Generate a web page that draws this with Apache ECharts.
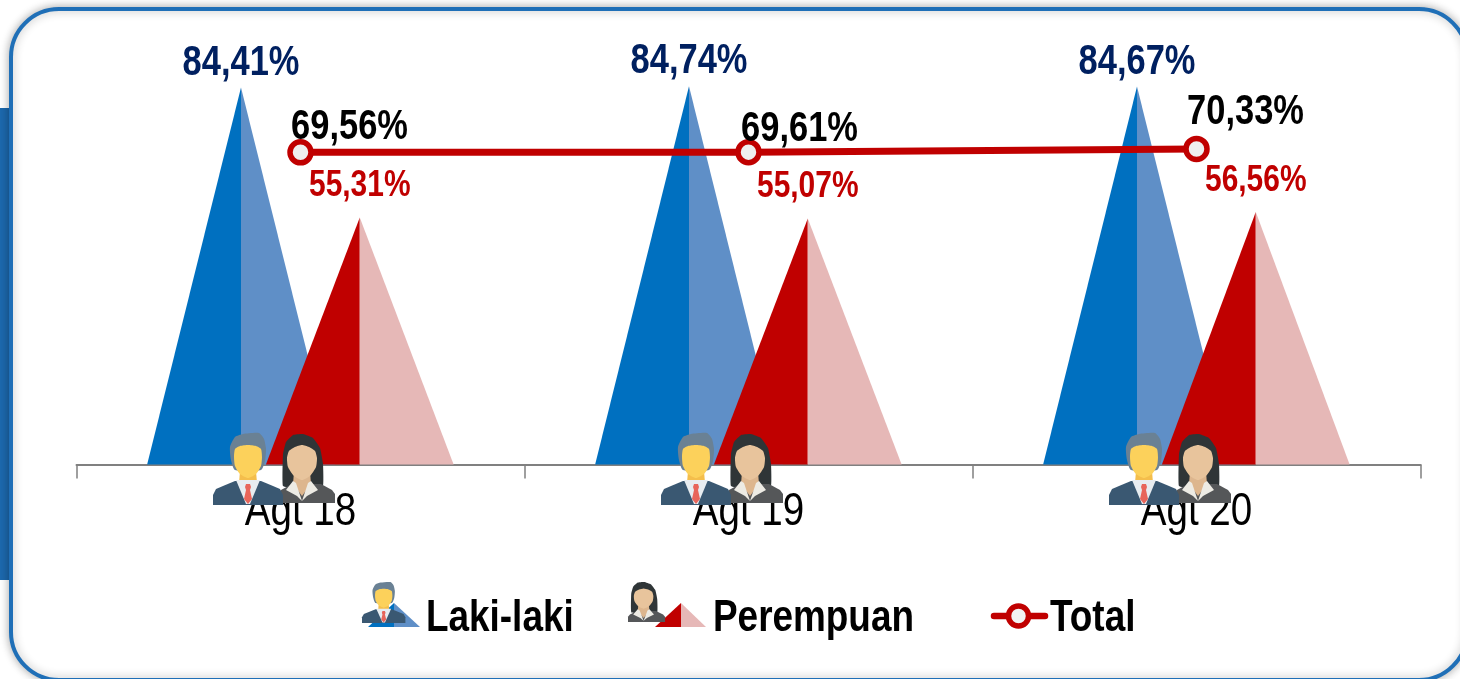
<!DOCTYPE html>
<html>
<head>
<meta charset="utf-8">
<style>html,body{margin:0;padding:0;background:#fff;overflow:hidden}#c{width:1460px;height:679px}</style>
<script src="https://cdn.jsdelivr.net/npm/echarts@6/dist/echarts.min.js"></script>
</head>
<body>
<div id="c"></div>
<script>
const categories = ['Agt 18', 'Agt 19', 'Agt 20'];
const lakiLaki = [84.41, 84.74, 84.67];
const perempuan = [55.31, 55.07, 56.56];
const total = [69.56, 69.61, 70.33];
const seriesNames = ['Laki-laki', 'Perempuan', 'Total'];
const totalLabelShift = [[49, 25], [51, 23], [49, 36.5]];

const FONT = '"Liberation Sans",sans-serif';
const NARROW = 0.82;
const BLUE = '#0070C0', BLUE_L = '#5F8FC7', RED = '#C00000', RED_L = '#E6B8B7';
const fmt = v => v.toFixed(2).replace('.', ',') + '%';

function poly(points, fill, smooth) {
  return { type: 'polygon', shape: { points, smooth: smooth || 0 }, style: { fill } };
}
function maleIcon() {
  return [
    poly([[18,27],[17,14],[22,4],[30,1],[46,0],[51,6],[53,16],[52,28],[48,37],[22,37]], '#6A8194', 0.2),
    poly([[27,38],[43,38],[44,50],[35,58],[26,50]], '#F4BE4C'),
    poly([[21,24],[22,16],[27,13],[35,12],[43,13],[48,16],[49,24],[48,33],[43,41],[35,45],[27,41],[22,33]], '#FCD15B', 0.2),
    poly([[0,72],[0,62],[3,56],[10,53],[22,48],[48,48],[60,53],[67,56],[70,62],[70,72]], '#3A5872'),
    poly([[23,47],[47,47],[37,71],[33,71]], '#E7ECF0'),
    poly([[33,51],[37,51],[38,54],[37,57],[39,66],[35,71],[31,66],[33,57],[32,54]], '#E8655A')
  ];
}
function femaleIcon() {
  return [
    poly([[5,52],[5,20],[8,8],[15,1],[25,0],[35,4],[42,14],[45,30],[45,52],[35,54],[15,54]], '#2F3537', 0.12),
    poly([[0,69],[0,60],[3,56],[14,50],[43,50],[54,56],[57,60],[57,69]], '#555759'),
    poly([[16,38],[32,38],[33,50],[24,62],[15,50]], '#DDB68E'),
    poly([[9,24],[11,17],[17,13],[24,11],[31,13],[37,17],[39,24],[38,33],[32,42],[24,46],[16,42],[10,33]], '#E8C49C', 0.2),
    poly([[15,47],[18,49],[24,67],[19,62],[8,56]], '#EDEBE4'),
    poly([[33,47],[30,49],[24,67],[29,62],[40,56]], '#EDEBE4')
  ];
}
function triangle(api, value, offsetRatio, colorLeft, colorRight) {
  const i = api.value(0);
  const base = api.coord([i, 0]);
  const top = api.coord([i, value]);
  const band = api.size([1, 0])[0];
  const half = band * 0.2095;
  const cx = base[0] + band * offsetRatio;
  return [
    { type: 'polygon', shape: { points: [[cx - half, base[1]], [cx, top[1]], [cx, base[1]]] }, style: { fill: colorLeft } },
    { type: 'polygon', shape: { points: [[cx, base[1]], [cx, top[1]], [cx + half, base[1]]] }, style: { fill: colorRight } }
  ];
}
function narrowText(value, x, y, fontSize, color) {
  return { type: 'text', x, y, scaleX: NARROW, style: {
    text: fmt(value), x: 0, y: 0, align: 'center', verticalAlign: 'middle', fill: color,
    font: 'bold ' + fontSize + 'px ' + FONT
  } };
}
function triLabel(api, value, offsetRatio, gap, fontSize, color) {
  const top = api.coord([api.value(0), value]);
  const band = api.size([1, 0])[0];
  return narrowText(value, top[0] + band * offsetRatio, top[1] - gap, fontSize, color);
}
function legendEntry(i, left) {
  return { data: [seriesNames[i]], left, top: 591, icon: 'none', itemWidth: 1, itemHeight: 1, itemGap: 0, selectedMode: false,
    textStyle: { fontFamily: FONT, fontWeight: 'bold', fontSize: 45, color: '#000', padding: 0 } };
}

const option = {
  animation: false,
  backgroundColor: '#fff',
  graphic: { elements: [
    { type: 'rect', z: -10, shape: { x: 0, y: 108, width: 14, height: 472 }, style: { fill: '#1D69AE' } },
    { type: 'rect', z: -9, shape: { x: 11, y: 9, width: 1456, height: 671, r: 48 },
      style: { fill: '#fff', stroke: '#1F6FB7', lineWidth: 4, shadowBlur: 10, shadowColor: 'rgba(0,0,0,0.3)' } },
    { type: 'group', z: 20, children: [
      { type: 'polygon', shape: { points: [[368,627],[394,603],[394,627]] }, style: { fill: BLUE } },
      { type: 'polygon', shape: { points: [[394,627],[394,603],[420,627]] }, style: { fill: BLUE_L } },
      { type: 'polygon', shape: { points: [[655,627],[681,603],[681,627]] }, style: { fill: RED } },
      { type: 'polygon', shape: { points: [[681,627],[681,603],[706,627]] }, style: { fill: RED_L } },
      { type: 'line', shape: { x1: 994, y1: 616, x2: 1045, y2: 616 }, style: { stroke: RED, lineWidth: 6.5, lineCap: 'round' } },
      { type: 'circle', shape: { cx: 1018.5, cy: 616, r: 10 }, style: { fill: '#F2F2F2', stroke: RED, lineWidth: 5.5 } },
      { type: 'group', x: 362, y: 582, scaleX: 0.62, scaleY: 0.57, children: maleIcon() },
      { type: 'group', x: 628, y: 582, scaleX: 0.65, scaleY: 0.58, children: femaleIcon() }
    ] }
  ] },
  legend: [legendEntry(0, 415), legendEntry(1, 702), legendEntry(2, 1039)],
  grid: { left: 76.5, right: 39.5, top: 18, height: 446.5, containLabel: false },
  xAxis: {
    type: 'category', data: categories, boundaryGap: true,
    axisLine: { lineStyle: { color: '#808080', width: 2 } },
    axisTick: { show: true, length: 14, lineStyle: { color: '#808080', width: 1.5 } },
    axisLabel: { color: '#000', fontFamily: FONT, fontSize: 47, margin: 24 }
  },
  yAxis: [
    { type: 'value', min: 0, max: 100, show: false, splitLine: { show: false } },
    { type: 'value', min: 0, max: 99.5, show: false, splitLine: { show: false } }
  ],
  series: [
    { name: seriesNames[0], type: 'custom', z: 3, data: categories.map((c, i) => [i, lakiLaki[i]]),
      encode: { x: 0, y: 1 },
      renderItem: (p, api) => ({ type: 'group', children: [
        ...triangle(api, api.value(1), -0.1328, BLUE, BLUE_L),
        triLabel(api, api.value(1), -0.1328, 24.5, 42, '#002060')
      ] }) },
    { name: seriesNames[1], type: 'custom', z: 4, data: categories.map((c, i) => [i, perempuan[i]]),
      encode: { x: 0, y: 1 },
      renderItem: (p, api) => ({ type: 'group', children: [
        ...triangle(api, api.value(1), 0.1323, RED, RED_L),
        triLabel(api, api.value(1), 0.1323, 31.5, 36.5, RED)
      ] }) },
    { type: 'custom', z: 5, data: categories.map((c, i) => [i, 0]),
      encode: { x: 0, y: 1 }, silent: true,
      renderItem: (p, api) => {
        const b = api.coord([api.value(0), 0]);
        return { type: 'group', children: [
          { type: 'group', x: b[0] - 22.5, y: b[1] - 30.5, children: femaleIcon() },
          { type: 'group', x: b[0] - 87.5, y: b[1] - 31.5, children: maleIcon() }
        ] };
      } },
    { name: seriesNames[2], type: 'line', yAxisIndex: 1, z: 6, data: total,
      lineStyle: { color: RED, width: 7 },
      symbol: 'circle', symbolSize: 21,
      itemStyle: { color: '#EFEFEF', borderColor: RED, borderWidth: 5.5 }
    },
    { type: 'custom', yAxisIndex: 1, z: 7, data: total.map((v, i) => [i, v]),
      encode: { x: 0, y: 1 }, silent: true,
      renderItem: (p, api) => {
        const i = api.value(0), v = api.value(1), c = api.coord([i, v]);
        return narrowText(v, c[0] + totalLabelShift[i][0], c[1] - totalLabelShift[i][1], 42, '#000');
      } }
  ]
};
const chart = echarts.init(document.getElementById('c'), null, { renderer: 'canvas' });
chart.setOption(option);

// The reference uses a narrow face; squeeze axis and legend text the same way.
const squeezed = new Set([...categories, ...seriesNames]);
const zr = chart.getZr();
(function walk(list) {
  list.forEach(el => {
    if (el.type === 'text' && squeezed.has(el.style.text)) {
      el.originX = el.style.x || 0;
      el.scaleX = NARROW;
      el.dirty();
    } else if (el.isGroup && el.children) {
      walk(el.children());
    }
  });
})(zr.storage.getRoots());
zr.refreshImmediately();
</script>
</body>
</html>
